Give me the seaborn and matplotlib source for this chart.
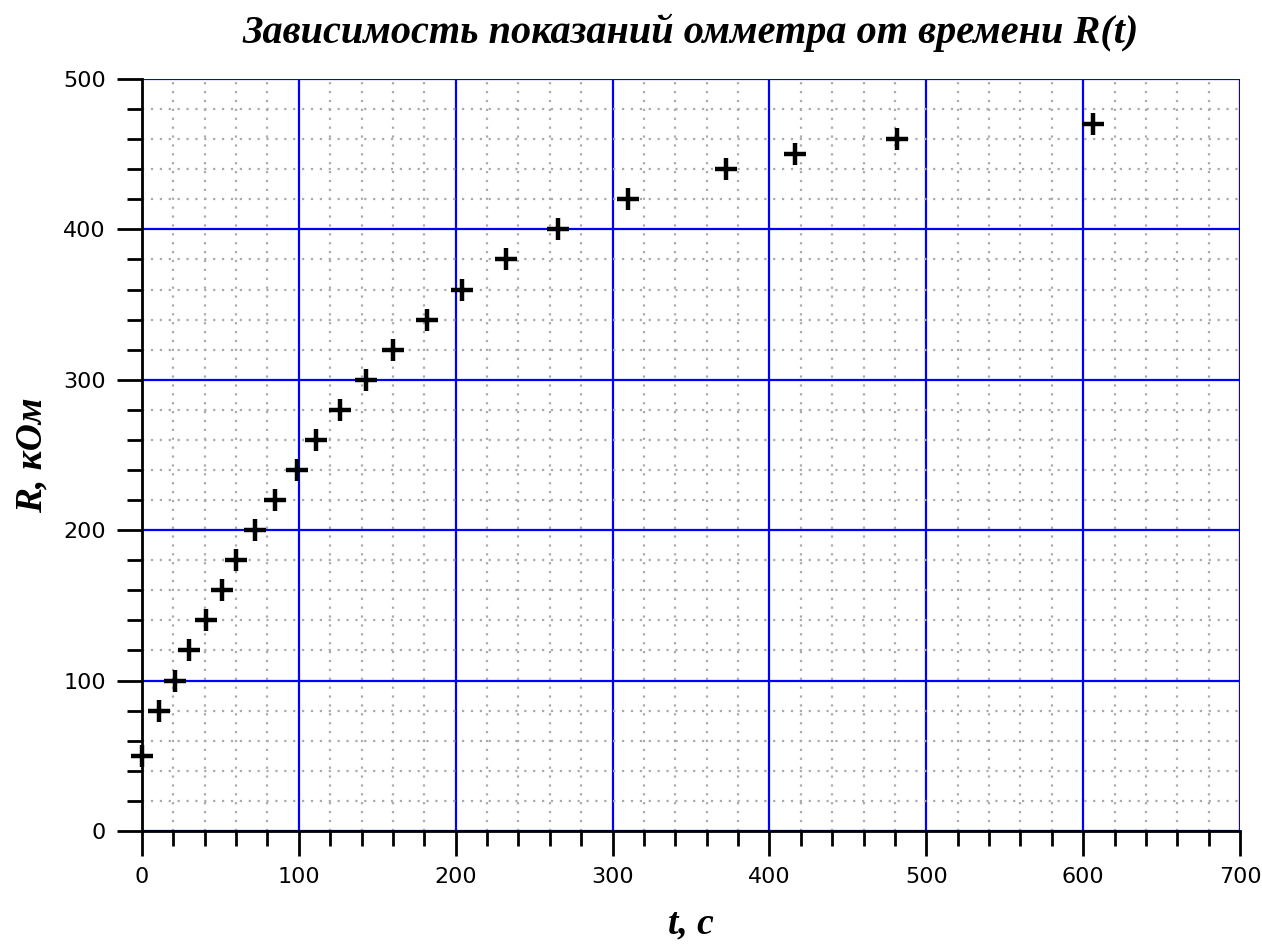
import matplotlib
matplotlib.use("Agg")
import matplotlib.pyplot as plt
from matplotlib.ticker import MultipleLocator
import seaborn as sns
import pandas as pd

# readings: time (s) and ohmmeter value (kOhm)
t_sec = [0, 11, 21, 30, 41, 51, 60, 72, 85, 99, 111, 126, 143, 160, 182,
         204, 232, 265, 310, 372, 416, 481, 606]
r_kohm = [50, 80, 100, 120, 140, 160, 180, 200, 220, 240, 260, 280, 300, 320, 340,
          360, 380, 400, 420, 440, 450, 460, 470]

df = pd.DataFrame({"t": t_sec, "R": r_kohm})

sns.set_style("white")
plt.rcParams['font.family'] = ['DejaVu Sans']

fig = plt.figure(figsize=(12.62, 9.46), dpi=100)
ax = fig.add_axes([0.1125, 0.1216, 0.8701, 0.7949])

sns.scatterplot(data=df, x="t", y="R", marker="+", color="black",
                s=260, linewidth=3.2, ax=ax, zorder=5, clip_on=False)

ax.set_xlim(0, 700)
ax.set_ylim(0, 500)
ax.xaxis.set_major_locator(MultipleLocator(100))
ax.xaxis.set_minor_locator(MultipleLocator(20))
ax.yaxis.set_major_locator(MultipleLocator(100))
ax.yaxis.set_minor_locator(MultipleLocator(20))

ax.grid(which="minor", color="#aaaaaa", linestyle=(0, (1, 3)), linewidth=1.6)
ax.grid(which="major", color="#0000ff", linestyle="-", linewidth=1.6)
ax.set_axisbelow(True)

for side in ["top", "right"]:
    ax.spines[side].set_visible(False)
for side in ["left", "bottom"]:
    ax.spines[side].set_color("black")
    ax.spines[side].set_linewidth(2)

ax.tick_params(which="major", direction="out", length=18, width=2,
               color="black", labelcolor="black", labelsize=16, pad=8,
               left=True, bottom=True)
ax.tick_params(which="minor", direction="out", length=11, width=2,
               color="black", left=True, bottom=True)

serif = dict(family="Liberation Serif", weight="bold", style="italic",
             color="black")
ax.set_title("Зависимость показаний омметра от времени R(t)", fontsize=29,
             pad=26, **serif)
ax.set_xlabel("t, с", fontsize=27, labelpad=14, **serif)
ax.set_ylabel("R, кОм", fontsize=27, labelpad=10, **serif)

fig.savefig("out.png", dpi=100)
